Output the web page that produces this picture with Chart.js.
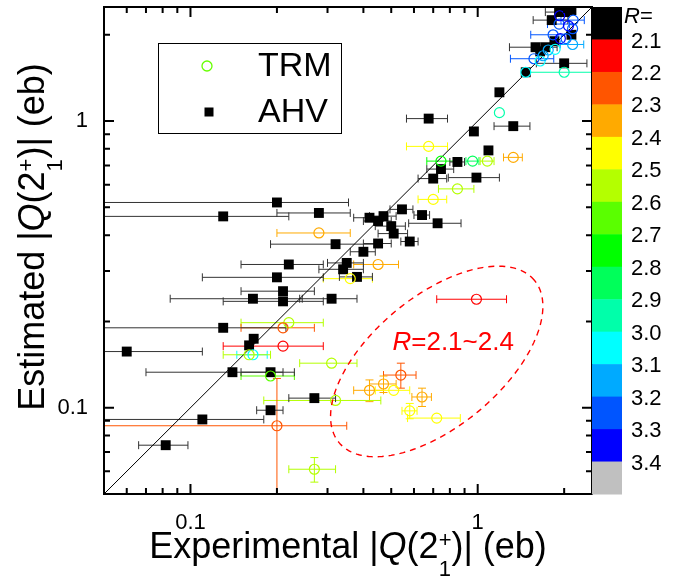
<!DOCTYPE html>
<html>
<head>
<meta charset="utf-8">
<script src="https://cdn.jsdelivr.net/npm/chart.js@4.4.1/dist/chart.umd.min.js"></script>
<style>
body { margin: 0; background: #fff; }
.box { width: 691px; height: 579px; }
</style>
</head>
<body>
<div class="box"><canvas id="myChart"></canvas></div>
<script>
// AHV points (black squares): experimental Q, estimated Q, error on experimental Q
const ahvX = [0.2, 0.13, 0.28, 0.32, 0.22, 0.2, 0.21, 0.21, 0.165, 0.31,
  0.13, 0.166, 0.16, 0.06, 0.14, 0.19, 0.675, 0.97, 1.09, 0.85,
  0.745, 0.70, 0.99, 0.545, 0.64, 0.47, 0.42, 0.45, 0.725, 0.50,
  0.51, 0.58, 0.45, 0.40, 0.35, 0.34, 0.38, 0.27, 0.19, 0.11,
  0.082, 1.33, 1.19, 1.47, 2.0, 1.59, 1.72, 1.81, 1.92, 2.02,
  2.12, 1.85, 2.12, 1.65];
const ahvY = [0.52, 0.465, 0.478, 0.372, 0.316, 0.285, 0.255, 0.235, 0.24, 0.24,
  0.19, 0.174, 0.165, 0.157, 0.133, 0.133, 1.02, 0.92, 0.79, 0.72,
  0.68, 0.63, 0.635, 0.492, 0.47, 0.466, 0.46, 0.448, 0.44, 0.43,
  0.405, 0.38, 0.374, 0.35, 0.32, 0.304, 0.286, 0.108, 0.098, 0.091,
  0.074, 0.96, 1.26, 1.48, 1.59, 1.81, 1.81, 2.25, 2.4, 2.4,
  2.44, 1.9, 2.0, 1.75];
const ahvXErr = [0.155, 0.09, 0.08, 0.13, 0.07, 0.09, 0.06, 0.08, 0.08, 0.07,
  0.085, 0, 0, 0.05, 0.07, 0.04, 0.11, 0, 0, 0.05,
  0.08, 0.08, 0.2, 0.05, 0.04, 0.05, 0.05, 0.05, 0.15, 0.06,
  0.06, 0.04, 0.05, 0.04, 0.05, 0.06, 0.05, 0.05, 0.02, 0.07,
  0.016, 0.19, 0, 0, 0.4, 0.3, 0, 0.25, 0.2, 0,
  0, 0, 0, 0];

// TRM points (open circles), coloured by R
const trmX = [0.28, 0.22, 0.21, 0.21, 0.165, 0.16, 0.31, 0.19, 0.675, 0.745,
  0.96, 1.08, 0.85, 0.70, 0.45, 0.36, 0.99, 0.54, 0.42, 0.47,
  0.51, 0.64, 0.58, 0.72, 0.32, 0.2, 0.27, 1.33, 1.19, 1.47,
  2.0, 1.57, 1.65, 1.69, 1.76, 1.86, 1.83, 1.94, 2.03, 2.14,
  2.14, 1.92, 2.15, 1.93, 2.07];
const trmY = [0.407, 0.198, 0.19, 0.164, 0.153, 0.153, 0.143, 0.129, 0.816, 0.725,
  0.725, 0.725, 0.58, 0.533, 0.316, 0.282, 0.239, 0.13, 0.115, 0.121,
  0.115, 0.109, 0.0975, 0.092, 0.106, 0.0865, 0.061, 0.747, 1.07, 1.48,
  1.48, 1.65, 1.62, 1.69, 1.77, 1.78, 2.0, 1.94, 1.94, 1.85,
  2.1, 2.18, 2.25, 2.33, 2.15];
const trmXErr = [0.08, 0.07, 0.06, 0.08, 0.02, 0.03, 0.07, 0.04, 0.11, 0.08,
  0.05, 0.06, 0.12, 0.08, 0.08, 0.07, 0.27, 0.07, 0.05, 0.05,
  0.07, 0.05, 0.035, 0.15, 0.14, 0.15, 0.05, 0.1, 0, 0,
  0.53, 0.27, 0, 0, 0, 0, 0.3, 0, 0, 0.2,
  0, 0.17, 0.2, 0, 0];
const trmYErr = [0, 0, 0, 0, 0, 0, 0, 0, 0, 0,
  0, 0, 0, 0, 0, 0, 0, 0.013, 0.01, 0.008,
  0, 0.008, 0.006, 0, 0, 0.04, 0.006, 0, 0, 0,
  0, 0, 0, 0, 0, 0, 0, 0, 0, 0,
  0, 0, 0, 0, 0];
const trmR = [2.35, 2.55, 2.25, 2.15, 3.05, 2.55, 2.55, 2.65, 2.45, 2.75,
  2.85, 2.55, 2.55, 2.45, 2.35, 2.45, 2.15, 2.25, 2.35, 2.35,
  2.45, 2.35, 2.45, 2.45, 2.55, 2.25, 2.55, 2.35, 2.95, 3.05,
  2.95, 3.25, 3.05, 3.15, 3.15, 3.05, 3.25, 3.35, 3.25, 3.15,
  3.25, 3.25, 3.25, 3.35, 3.35];

// colour scale
const rLabels = ['2.1', '2.2', '2.3', '2.4', '2.5', '2.6', '2.7', '2.8', '2.9', '3.0', '3.1', '3.2', '3.3', '3.4'];
const rColors = ['#000000', '#ff0000', '#ff5500', '#ffaa00', '#ffff00', '#b4ff00', '#5aff00', '#00ff00',
  '#00ff5a', '#00ffaa', '#00ffff', '#00aaff', '#0055ff', '#0000ff', '#c0c0c0'];

const majorTicks = [0.1, 1];
const minorTicks = [0.06, 0.07, 0.08, 0.09, 0.2, 0.3, 0.4, 0.5, 0.6, 0.7, 0.8, 0.9, 2];
const axisMin = 0.05;
const axisMax = 2.5;

const FONT = '"Liberation Sans", Arial, sans-serif';

function rColor(r) {
  let i = Math.floor((r - 2.1) / 0.1 + 1e-6) + 1;
  return rColors[Math.max(0, Math.min(rColors.length - 1, i))];
}

// draws text with italic Q and stacked sub/superscript, centred on (0,0) baseline
function drawRich(ctx, parts, size) {
  const small = Math.round(size * 0.62);
  const widths = parts.map(p => {
    if (p.t !== undefined) {
      ctx.font = (p.it ? 'italic ' : '') + size + 'px ' + FONT;
      return ctx.measureText(p.t).width;
    }
    ctx.font = small + 'px ' + FONT;
    return Math.max(ctx.measureText(p.sub).width, ctx.measureText(p.sup).width);
  });
  let x = -widths.reduce((a, b) => a + b, 0) / 2;
  ctx.textAlign = 'left';
  ctx.textBaseline = 'alphabetic';
  parts.forEach((p, i) => {
    if (p.t !== undefined) {
      ctx.font = (p.it ? 'italic ' : '') + size + 'px ' + FONT;
      ctx.fillText(p.t, x, 0);
    } else {
      ctx.font = small + 'px ' + FONT;
      ctx.fillText(p.sup, x, -size * 0.3);
      ctx.fillText(p.sub, x, size * 0.5);
    }
    x += widths[i];
  });
}

const errorBars = {
  id: 'errorBars',
  beforeDatasetsDraw(chart) {
    const {ctx, chartArea: a, scales: {x, y}} = chart;
    ctx.save();
    ctx.beginPath();
    ctx.rect(a.left, a.top, a.right - a.left, a.bottom - a.top);
    ctx.clip();
    ctx.lineWidth = 1;
    chart.data.datasets.forEach(ds => {
      if (!ds.xErr) return;
      ds.data.forEach((p, i) => {
        const px = x.getPixelForValue(p.x);
        const py = y.getPixelForValue(p.y);
        const col = Array.isArray(ds.barColor) ? ds.barColor[i] : ds.barColor;
        ctx.strokeStyle = col;
        ctx.beginPath();
        const ex = ds.xErr[i];
        if (ex > 0) {
          const lo = p.x - ex > 0 ? x.getPixelForValue(p.x - ex) : a.left - 5;
          const hi = x.getPixelForValue(p.x + ex);
          ctx.moveTo(lo, py); ctx.lineTo(hi, py);
          ctx.moveTo(lo, py - 4); ctx.lineTo(lo, py + 4);
          ctx.moveTo(hi, py - 4); ctx.lineTo(hi, py + 4);
        }
        const ey = ds.yErr ? ds.yErr[i] : 0;
        if (ey > 0) {
          const lo = p.y - ey > 0 ? y.getPixelForValue(p.y - ey) : a.bottom + 5;
          const hi = y.getPixelForValue(p.y + ey);
          ctx.moveTo(px, lo); ctx.lineTo(px, hi);
          ctx.moveTo(px - 4, lo); ctx.lineTo(px + 4, lo);
          ctx.moveTo(px - 4, hi); ctx.lineTo(px + 4, hi);
        }
        ctx.stroke();
      });
    });
    ctx.restore();
  }
};

// ellipse around the R=2.1~2.4 group, axes given in decades
const ellipse = {x: 0.72, y: 0.145, a: 0.4425, b: 0.2265, angle: 39.8, label: '=2.1~2.4'};

const annotate = {
  id: 'annotate',
  afterDatasetsDraw(chart) {
    const {ctx, scales: {x, y}} = chart;
    const th = ellipse.angle * Math.PI / 180;
    const cx = Math.log10(ellipse.x), cy = Math.log10(ellipse.y);
    ctx.save();
    ctx.strokeStyle = '#ff0000';
    ctx.lineWidth = 1.4;
    ctx.setLineDash([6, 5]);
    ctx.beginPath();
    for (let k = 0; k <= 200; k++) {
      const t = k / 200 * Math.PI * 2;
      const lx = cx + ellipse.a * Math.cos(t) * Math.cos(th) - ellipse.b * Math.sin(t) * Math.sin(th);
      const ly = cy + ellipse.a * Math.cos(t) * Math.sin(th) + ellipse.b * Math.sin(t) * Math.cos(th);
      const px = x.getPixelForValue(Math.pow(10, lx));
      const py = y.getPixelForValue(Math.pow(10, ly));
      if (k === 0) ctx.moveTo(px, py); else ctx.lineTo(px, py);
    }
    ctx.stroke();
    ctx.setLineDash([]);
    ctx.fillStyle = '#ff0000';
    ctx.textBaseline = 'alphabetic';
    ctx.textAlign = 'left';
    const tx = x.getPixelForValue(0.505), ty = y.getPixelForValue(0.159);
    ctx.font = 'italic 26px ' + FONT;
    ctx.fillText('R', tx, ty);
    const w = ctx.measureText('R').width;
    ctx.font = '26px ' + FONT;
    ctx.fillText(ellipse.label, tx + w, ty);
    ctx.restore();
  }
};

const frameTicks = {
  id: 'frameTicks',
  afterDatasetsDraw(chart) {
    const {ctx, chartArea: a, scales: {x, y}} = chart;
    ctx.save();
    ctx.strokeStyle = '#000';
    ctx.lineWidth = 2;
    ctx.strokeRect(a.left, a.top, a.right - a.left, a.bottom - a.top);
    const mark = (v, len) => {
      const px = x.getPixelForValue(v), py = y.getPixelForValue(v);
      ctx.beginPath();
      ctx.moveTo(px, a.bottom); ctx.lineTo(px, a.bottom - len);
      ctx.moveTo(px, a.top); ctx.lineTo(px, a.top + len);
      ctx.moveTo(a.left, py); ctx.lineTo(a.left + len, py);
      ctx.moveTo(a.right, py); ctx.lineTo(a.right - len, py);
      ctx.stroke();
    };
    majorTicks.forEach(v => mark(v, 10));
    minorTicks.forEach(v => mark(v, 6));
    ctx.restore();
  }
};

const legendBox = {
  id: 'legendBox',
  afterDraw(chart) {
    const {ctx, chartArea: a} = chart;
    const left = a.left + 54, top = a.top + 36;
    ctx.save();
    ctx.fillStyle = '#fff';
    ctx.fillRect(left, top, 183, 90);
    ctx.strokeStyle = '#000';
    ctx.lineWidth = 1;
    ctx.strokeRect(left + 0.5, top + 0.5, 183, 90);
    const trm = chart.data.datasets[0], ahv = chart.data.datasets[1];
    ctx.strokeStyle = '#66ff00';
    ctx.lineWidth = 1.3;
    ctx.beginPath();
    ctx.arc(left + 49, top + 23, 5, 0, Math.PI * 2);
    ctx.stroke();
    ctx.fillStyle = '#000';
    ctx.fillRect(left + 51 - 4.5, top + 69 - 4.5, 9, 9);
    ctx.font = '34px ' + FONT;
    ctx.textBaseline = 'middle';
    ctx.fillText(trm.label, left + 100, top + 24);
    ctx.fillText(ahv.label, left + 100, top + 70);
    ctx.restore();
  }
};

const colorBar = {
  id: 'colorBar',
  afterDraw(chart) {
    const {ctx, chartArea: a} = chart;
    const x0 = a.right, h = (a.bottom - a.top) / rColors.length;
    ctx.save();
    rColors.forEach((c, i) => {
      ctx.fillStyle = c;
      ctx.fillRect(x0, a.top + i * h, 30, h + 0.5);
    });
    ctx.fillStyle = '#000';
    ctx.textBaseline = 'middle';
    ctx.textAlign = 'left';
    ctx.font = '22px ' + FONT;
    rLabels.forEach((t, i) => ctx.fillText(t, x0 + 39, a.top + (i + 1) * h + 2));
    ctx.font = 'italic 22px ' + FONT;
    ctx.fillText('R', x0 + 32, a.top + 10);
    const w = ctx.measureText('R').width;
    ctx.font = '22px ' + FONT;
    ctx.fillText('=', x0 + 32 + w, a.top + 10);
    ctx.restore();
  }
};

const axisTitles = {
  id: 'axisTitles',
  afterDraw(chart) {
    const {ctx, chartArea: a} = chart;
    const xt = [{t: 'Experimental |'}, {t: 'Q', it: true}, {t: '(2'}, {sup: '+', sub: '1'}, {t: ')| (eb)'}];
    const yt = [{t: 'Estimated |'}, {t: 'Q', it: true}, {t: '(2'}, {sup: '+', sub: '1'}, {t: ')| (eb)'}];
    ctx.save();
    ctx.fillStyle = '#000';
    ctx.translate((a.left + a.right) / 2, 558);
    drawRich(ctx, xt, 36);
    ctx.restore();
    ctx.save();
    ctx.fillStyle = '#000';
    ctx.translate(44, 237);
    ctx.rotate(-Math.PI / 2);
    drawRich(ctx, yt, 36);
    ctx.restore();
  }
};

const ctx = document.getElementById('myChart');

new Chart(ctx, {
  type: 'scatter',
  data: {
    datasets: [{
      label: 'TRM',
      data: trmX.map((v, i) => ({x: v, y: trmY[i]})),
      xErr: trmXErr,
      yErr: trmYErr,
      barColor: trmR.map(rColor),
      pointStyle: 'circle',
      pointRadius: 5,
      pointBorderWidth: 1.2,
      pointBorderColor: trmR.map(rColor),
      pointBackgroundColor: 'rgba(0,0,0,0)'
    }, {
      label: 'AHV',
      data: ahvX.map((v, i) => ({x: v, y: ahvY[i]})),
      xErr: ahvXErr,
      barColor: '#333',
      pointStyle: 'rect',
      pointRadius: 7,
      pointBorderWidth: 0,
      pointBackgroundColor: '#000'
    }, {
      label: 'y = x',
      data: [{x: axisMin, y: axisMin}, {x: axisMax, y: axisMax}],
      showLine: true,
      borderColor: '#000',
      borderWidth: 1,
      pointRadius: 0
    }]
  },
  options: {
    responsive: true,
    maintainAspectRatio: false,
    animation: false,
    layout: {padding: {top: 6, right: 99, left: 0, bottom: 0}},
    plugins: {
      legend: {display: false},
      tooltip: {enabled: false}
    },
    scales: {
      x: {
        type: 'logarithmic',
        min: axisMin,
        max: axisMax,
        grid: {display: false, drawTicks: false},
        border: {display: false},
        afterBuildTicks: s => { s.ticks = majorTicks.map(v => ({value: v})); },
        afterFit: s => { s.height = 85; s.paddingLeft = 0; s.paddingRight = 0; },
        ticks: {
          autoSkip: false,
          maxRotation: 0,
          padding: 16,
          color: '#000',
          font: {family: FONT, size: 22},
          callback: v => String(v)
        }
      },
      y: {
        type: 'logarithmic',
        min: axisMin,
        max: axisMax,
        grid: {display: false, drawTicks: false},
        border: {display: false},
        afterBuildTicks: s => { s.ticks = majorTicks.map(v => ({value: v})); },
        afterFit: s => { s.width = 104; s.paddingTop = 0; s.paddingBottom = 0; },
        ticks: {
          autoSkip: false,
          padding: 16,
          color: '#000',
          font: {family: FONT, size: 22},
          callback: v => String(v)
        }
      }
    }
  },
  plugins: [errorBars, annotate, frameTicks, legendBox, colorBar, axisTitles]
});
</script>
</body>
</html>
